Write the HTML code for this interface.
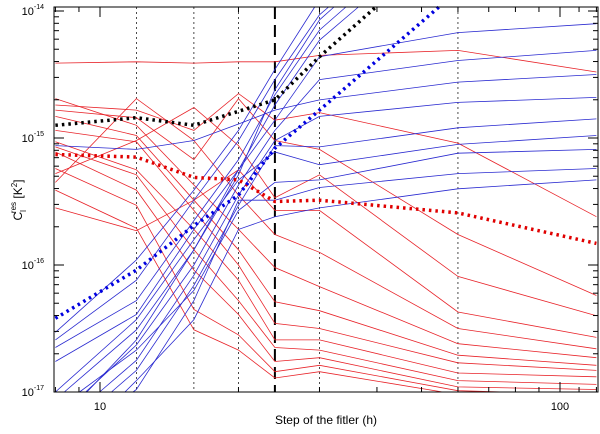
<!DOCTYPE html>
<html><head><meta charset="utf-8"><style>
html,body{margin:0;padding:0;background:#fff;width:600px;height:434px;overflow:hidden;}
svg{display:block;font-family:"Liberation Sans",sans-serif;}
</style></head><body>
<svg id="chart" width="600" height="434" viewBox="0 0 600 434" xmlns="http://www.w3.org/2000/svg">
<g id="grid"></g>
<g id="series"></g>
<rect x="54" y="7" width="544" height="385" fill="none" stroke="#000" stroke-width="1"/>
<g id="axes"></g>
<text x="326" y="424" font-size="12" text-anchor="middle">Step of the fitler (h)</text>
<text transform="translate(22,200) rotate(-90)" font-size="12" text-anchor="middle">C<tspan font-size="8" dy="4">l</tspan><tspan font-size="8" dy="-10" dx="-3">res</tspan><tspan dy="6"> [K</tspan><tspan font-size="8" dy="-5">2</tspan><tspan dy="5">]</tspan></text>
</svg>
<script>
const steps = [8, 12, 16, 20, 24, 30, 60, 120];
const gridSteps = [12, 16, 20, 30, 60];
const cutStep = 24;
const yDecades = [-17, -16, -15, -14];
const xLabels = [10, 100];
// series values stored as log10 of C_l^res [K^2]
const redLog = [
 [-14.41,-14.40,-14.41,-14.40,-14.40,-14.35,-14.31,-14.48],
 [-15.35,-14.69,-15.02,-15.45,-15.76,-15.90,-16.50,-16.66],
 [-14.74,-14.78,-14.94,-14.65,-14.86,-14.80,-15.04,-15.62],
 [-14.78,-14.84,-15.17,-14.69,-15.02,-15.09,-15.76,-16.24],
 [-15.28,-15.02,-14.76,-15.06,-15.47,-15.29,-16.09,-16.40],
 [-14.69,-14.90,-15.37,-15.72,-16.02,-16.17,-16.62,-16.73],
 [-14.83,-14.98,-15.49,-15.88,-16.29,-16.36,-16.71,-16.79],
 [-14.94,-15.03,-15.57,-16.00,-16.46,-16.50,-16.77,-16.83],
 [-15.03,-15.25,-15.72,-16.12,-16.59,-16.59,-16.85,-16.88],
 [-15.07,-15.29,-15.88,-16.28,-16.65,-16.67,-16.91,-16.94],
 [-15.11,-15.41,-16.04,-16.39,-16.76,-16.73,-16.96,-16.98],
 [-15.24,-15.53,-16.35,-16.55,-16.84,-16.79,-16.99,-17.02],
 [-15.41,-15.71,-16.51,-16.67,-16.89,-16.84,-17.02,-17.05],
 [-15.55,-15.73,-15.49,-15.25,-15.57,-15.57,-16.37,-16.57]
];
const blueLog = [
 [-15.06,-15.09,-15.02,-14.89,-14.78,-14.70,-14.56,-14.50],
 [-17.06,-16.51,-15.88,-15.25,-14.86,-14.36,-14.17,-14.10],
 [-17.22,-16.63,-16.00,-15.37,-14.94,-14.54,-14.39,-14.31],
 [-17.30,-16.75,-16.08,-15.45,-15.02,-14.83,-14.72,-14.68],
 [-17.38,-16.83,-16.16,-15.53,-15.06,-15.07,-14.92,-14.85],
 [-17.00,-16.43,-15.80,-15.33,-15.11,-15.21,-15.05,-14.98],
 [-17.14,-16.67,-16.20,-15.57,-15.35,-15.33,-15.12,-15.09],
 [-17.46,-16.98,-16.28,-15.49,-15.49,-15.39,-15.28,-15.24],
 [-17.54,-16.91,-16.43,-15.72,-15.62,-15.55,-15.40,-15.33],
 [-16.53,-15.96,-15.41,-14.94,-14.46,-13.91,-13.0,-12.5],
 [-16.59,-16.12,-15.49,-15.02,-14.54,-14.03,-13.1,-12.6],
 [-16.65,-16.28,-15.65,-15.17,-14.66,-14.15,-13.2,-12.7],
 [-16.76,-16.39,-15.72,-15.25,-14.74,-14.23,-13.3,-12.8],
 [-17.26,-16.59,-15.88,-15.29,-14.62,-14.07,-13.1,-12.6]
];
const blackMeanLog = [-14.90,-14.84,-14.90,-14.79,-14.70,-14.36,-13.4,-12.8];
const redMeanLog = [-15.13,-15.15,-15.31,-15.33,-15.50,-15.49,-15.59,-15.83];
const blueMeanLog = [-16.42,-16.04,-15.69,-15.45,-15.08,-14.78,-13.84,-13.0];

const NS = "http://www.w3.org/2000/svg";
const X0 = 54, X1 = 598, Y0 = 7, Y1 = 392;
function xScale(h){ return 100 + (Math.log10(h) - 1) * 460; }
function yScale(v){ return 392 - (Math.log10(v) + 17) * 127; }
function mk(tag, attrs, parent){ const e = document.createElementNS(NS, tag); for (const k in attrs) e.setAttribute(k, attrs[k]); parent.appendChild(e); return e; }
function clipSeg(ax, ay, bx, by){
  let t0 = 0, t1 = 1; const dx = bx-ax, dy = by-ay;
  const p = [-dx, dx, -dy, dy], q = [ax-X0, X1-ax, ay-Y0, Y1-ay];
  for (let i=0;i<4;i++){
    if (p[i] === 0){ if (q[i] < 0) return null; }
    else { const r = q[i]/p[i]; if (p[i] < 0){ if (r > t1) return null; if (r > t0) t0 = r; } else { if (r < t0) return null; if (r < t1) t1 = r; } }
  }
  return [ax+t0*dx, ay+t0*dy, ax+t1*dx, ay+t1*dy];
}
function pathD(logs){
  const P = logs.map((L,i)=>[xScale(steps[i]), yScale(Math.pow(10,L))]);
  let d = "", last = null;
  for (let i=0;i<P.length-1;i++){
    const c = clipSeg(P[i][0],P[i][1],P[i+1][0],P[i+1][1]);
    if (!c) { last = null; continue; }
    if (!last || Math.abs(last[0]-c[0])>0.01 || Math.abs(last[1]-c[1])>0.01) d += "M"+c[0].toFixed(1)+","+c[1].toFixed(1);
    d += "L"+c[2].toFixed(1)+","+c[3].toFixed(1);
    last = [c[2],c[3]];
  }
  return d || "M0,0";
}

const grid = document.getElementById("grid");
gridSteps.forEach(h=>{
  const l = mk("line",{x1:xScale(h),x2:xScale(h),y1:7,y2:392,stroke:"#000","stroke-width":0.7,"stroke-dasharray":"2 3"},grid);
  
  
});
const cut = mk("line",{x1:xScale(cutStep),x2:xScale(cutStep),y1:7,y2:392,stroke:"#000","stroke-width":2,"stroke-dasharray":"12 6"},grid);



const ser = document.getElementById("series");
redLog.forEach(s=>{
  const p = mk("path",{d:pathD(s),fill:"none",stroke:"#e8242a","stroke-width":0.8},ser);
  
  
});
blueLog.forEach(s=>{
  const p = mk("path",{d:pathD(s),fill:"none",stroke:"#2a2ad0","stroke-width":0.8},ser);
  
  
});
[[redMeanLog,"#e00000","red-mean-dotted"],[blueMeanLog,"#0000e0","blue-mean-dotted"],[blackMeanLog,"#000","black-mean-dotted"]].forEach(([s,c,n])=>{
  const p = mk("path",{d:pathD(s),fill:"none",stroke:c,"stroke-width":3.5,"stroke-dasharray":"2.5 4"},ser);
  
  
});

const ax = document.getElementById("axes");
yDecades.forEach(d=>{
  const y = yScale(Math.pow(10,d));
  mk("line",{x1:54,x2:64,y1:y,y2:y,stroke:"#000"},ax);
  mk("line",{x1:588,x2:598,y1:y,y2:y,stroke:"#000"},ax);
  const t = mk("text",{x:44,y:y+4,"font-size":11,"text-anchor":"end"},ax);
  t.textContent = "10";
  
  
  const s = mk("tspan",{"font-size":7,dy:-6},t);
  s.textContent = String(d);
  if (d < -14) for (let k=2;k<=9;k++){
    const yy = yScale(k*Math.pow(10,d));
    mk("line",{x1:54,x2:59,y1:yy,y2:yy,stroke:"#000"},ax);
    mk("line",{x1:593,x2:598,y1:yy,y2:yy,stroke:"#000"},ax);
  }
});
for (let h=8; h<=120; h += (h<10?1:10)){
  const x = xScale(h);
  const major = (h===10||h===100);
  const len = major?10:5;
  mk("line",{x1:x,x2:x,y1:392,y2:392-len,stroke:"#000"},ax);
  mk("line",{x1:x,x2:x,y1:7,y2:7+len,stroke:"#000"},ax);
}
xLabels.forEach(h=>{
  const t = mk("text",{x:xScale(h),y:410,"font-size":11,"text-anchor":"middle"},ax);
  t.textContent = String(h);
  
  
});
</script>
</body></html>
